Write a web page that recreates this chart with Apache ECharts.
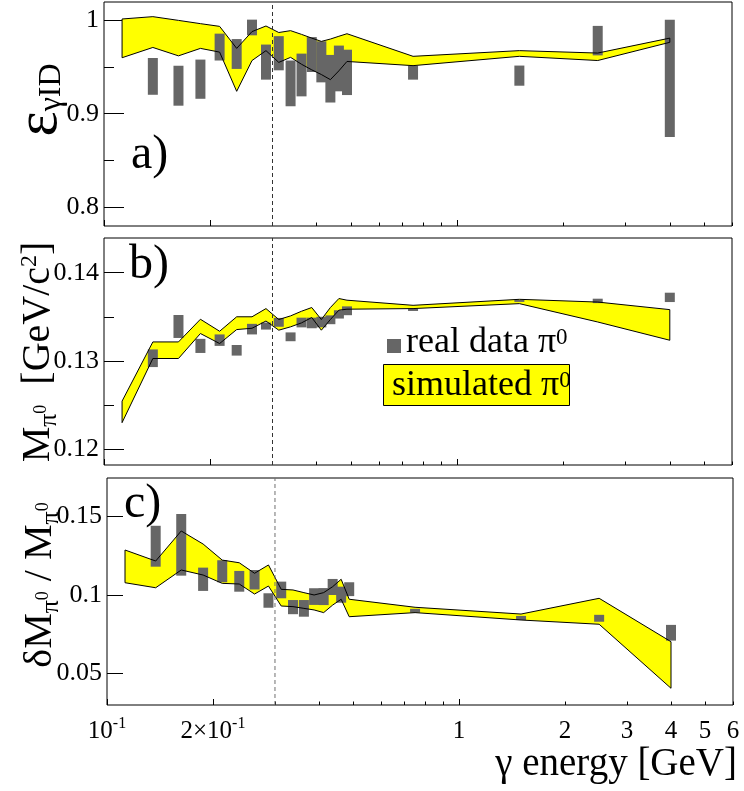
<!DOCTYPE html>
<html>
<head>
<meta charset="utf-8">
<script src="https://cdn.jsdelivr.net/npm/echarts@6/dist/echarts.min.js"></script>
<style>
  html, body { margin: 0; padding: 0; background: #ffffff; }
  #chart { width: 744px; height: 791px; }
</style>
</head>
<body>
<div id="chart"></div>
<script>
// Photon energy bins [GeV] of the measured points
const dataEnergies = [0.1375, 0.1625, 0.1875, 0.2125, 0.2375, 0.2625, 0.2875, 0.3125, 0.3375,
  0.3625, 0.3875, 0.4125, 0.4375, 0.4625, 0.4875, 0.75, 1.5, 2.5, 4];
// Energies of the simulated band vertices [GeV]
const simEnergies = [0.1125, 0.1375, 0.1625, 0.1875, 0.2125, 0.2375, 0.2625, 0.2875, 0.3125, 0.3375,
  0.3625, 0.3875, 0.4125, 0.4375, 0.4625, 0.4875, 0.75, 1.5, 2.5, 4];

// a) photon identification efficiency
const effData = [0.940, 0.930, 0.937, 0.9714, 0.964, 0.9924, 0.9553, 0.9648, 0.9325, 0.9415,
  0.9634, 0.9556, 0.9375, 0.9485, 0.9443, 0.944, 0.9408, 0.9783, 0.9379];
const effErr = [0.0197, 0.0214, 0.021, 0.0144, 0.016, 0.0084, 0.0188, 0.0183, 0.0245, 0.0229,
  0.0187, 0.022, 0.0255, 0.0245, 0.0243, 0.0075, 0.0108, 0.0158, 0.0629];
const effSimHigh = [1.0015, 1.004, 1.0, 0.9965, 0.9936, 0.970, 0.988, 0.994, 0.987, 0.989,
  0.985, 0.981, 0.9775, 0.980, 0.983, 0.9857, 0.9615, 0.9676, 0.965, 0.981];
const effSimLow = [0.960, 0.971, 0.962, 0.970, 0.966, 0.924, 0.957, 0.9676, 0.955, 0.9604,
  0.953, 0.947, 0.942, 0.9365, 0.946, 0.956, 0.9515, 0.9615, 0.957, 0.9765];

// b) reconstructed pi0 mass [GeV/c^2]
const massData = [0.1303, 0.1339, 0.1317, 0.13235, 0.1312, 0.1336, 0.13395, 0.13437, 0.13273, 0.13435,
  0.1343, 0.1344, 0.13466, 0.13527, 0.13568, 0.1358, 0.1368, 0.1368, 0.1372];
const massErr = [0.0010, 0.0013, 0.0008, 0.00065, 0.0006, 0.0006, 0.0004, 0.0005, 0.0005, 0.00055,
  0.0006, 0.0006, 0.0005, 0.00047, 0.0005, 0.00014, 0.0001, 0.00025, 0.00053];
const massSimHigh = [0.12544, 0.13215, 0.13215, 0.13472, 0.13336, 0.1350, 0.1350, 0.13593, 0.13469, 0.1351,
  0.13563, 0.13605, 0.13469, 0.13605, 0.13707, 0.13688, 0.1363, 0.13698, 0.13667, 0.13581];
const massSimLow = [0.1230, 0.13027, 0.13027, 0.1331, 0.13197, 0.13355, 0.1337, 0.13452, 0.13348, 0.13386,
  0.13431, 0.13492, 0.13348, 0.13469, 0.13575, 0.13586, 0.13593, 0.13649, 0.13441, 0.13234];

// c) relative pi0 mass width
const widthData = [0.131, 0.1319, 0.110, 0.1151, 0.1087, 0.1097, 0.0965, 0.1032, 0.0923, 0.0915,
  0.099, 0.099, 0.1051, 0.1002, 0.1037, 0.090, 0.0854, 0.0852, 0.076];
const widthErr = [0.013, 0.0196, 0.0074, 0.007, 0.0066, 0.0062, 0.0046, 0.0053, 0.0045, 0.0053,
  0.0053, 0.0054, 0.0051, 0.0051, 0.0044, 0.0012, 0.0013, 0.0022, 0.005];
const widthSimHigh = [0.1286, 0.1216, 0.1407, 0.1324, 0.1222, 0.1205, 0.1138, 0.1191, 0.1036, 0.1032,
  0.1015, 0.100, 0.1015, 0.1053, 0.110, 0.0973, 0.0922, 0.0879, 0.0979, 0.0703];
const widthSimLow = [0.1078, 0.1046, 0.1159, 0.1127, 0.1074, 0.107, 0.1006, 0.1057, 0.093, 0.0926,
  0.0915, 0.0905, 0.0888, 0.0936, 0.0973, 0.0862, 0.0888, 0.0841, 0.0814, 0.0407];

// Energy threshold marked by the dashed line [GeV]
const cutEnergy = 0.3;

// Axis ticks and ranges
const energyRange = [0.1, 6];
const energyTicksMajor = [0.1, 0.2, 1];
const energyTicksMinor = [0.3, 0.4, 0.5, 0.6, 0.7, 0.8, 0.9, 2, 3, 4, 5, 6];
const energyLabels = [0.1, 0.2, 1, 2, 3, 4, 5, 6];
const effRange = [0.7797, 1.0197];
const effTicks = [0.8, 0.9, 1];
const effMinorTicks = [0.85, 0.95];
const massRange = [0.1182, 0.14393];
const massTicks = [0.12, 0.13, 0.14];
const massMinorTicks = [0.125, 0.135];
const widthRange = [0.03007, 0.17438];
const widthTicks = [0.05, 0.1, 0.15];
const widthMinorTicks = [];

const FONT = '"Liberation Serif", "DejaVu Serif", serif';
const GRAY = '#666666';
const YELLOW = '#ffff00';

const panels = [
  { grid: { left: 104, top: 2, width: 628, height: 224 }, range: effRange, ticks: effTicks, minor: effMinorTicks,
    majorLen: 20, values: effData, errs: effErr, hi: effSimHigh, lo: effSimLow, labels: false, dash: '#333333' },
  { grid: { left: 104, top: 238, width: 628, height: 227 }, range: massRange, ticks: massTicks, minor: massMinorTicks,
    majorLen: 20, values: massData, errs: massErr, hi: massSimHigh, lo: massSimLow, labels: false, dash: '#333333' },
  { grid: { left: 107, top: 478, width: 626, height: 227 }, range: widthRange, ticks: widthTicks, minor: widthMinorTicks,
    majorLen: 16, values: widthData, errs: widthErr, hi: widthSimHigh, lo: widthSimLow, labels: true, dash: '#707070' }
];

function near(a, b) { return Math.abs(a - b) < 1e-9 * Math.max(1, Math.abs(b)); }

function energyLabel(v) {
  if (near(v, 0.1)) return '{b|10}{p|-1}';
  if (near(v, 0.2)) return '{b|2\u00d710}{p|-1}';
  return '{b|' + Math.round(v) + '}';
}

const grids = [], xAxes = [], yAxes = [], series = [];

panels.forEach((p, k) => {
  grids.push(Object.assign({ show: true, borderColor: '#000', borderWidth: 1, backgroundColor: 'transparent' }, p.grid));
  // major energy ticks (and labels on the lowest panel)
  xAxes.push({
    type: 'log', logBase: 10, gridIndex: k, position: 'bottom',
    min: energyRange[0], max: energyRange[1],
    axisLine: { show: false, onZero: false },
    splitLine: { show: false },
    axisTick: { show: true, inside: true, length: 6, customValues: energyTicksMajor, lineStyle: { color: '#000', width: 1 } },
    axisLabel: {
      show: p.labels, customValues: energyLabels, margin: 14, formatter: energyLabel,
      rich: {
        b: { fontFamily: FONT, fontSize: 25, color: '#000', lineHeight: 25 },
        p: { fontFamily: FONT, fontSize: 16, color: '#000', lineHeight: 16, padding: [0, 0, 16, 0] }
      }
    }
  });
  // minor energy ticks
  xAxes.push({
    type: 'log', logBase: 10, gridIndex: k, position: 'bottom',
    min: energyRange[0], max: energyRange[1],
    axisLine: { show: false, onZero: false },
    splitLine: { show: false },
    axisTick: { show: true, inside: true, length: 3.5, customValues: energyTicksMinor, lineStyle: { color: '#000', width: 1 } },
    axisLabel: { show: false }
  });
  yAxes.push({
    type: 'value', gridIndex: k, position: 'left', min: p.range[0], max: p.range[1],
    axisLine: { show: false, onZero: false },
    splitLine: { show: false },
    axisTick: { show: true, inside: true, length: p.majorLen, customValues: p.ticks, lineStyle: { color: '#000', width: 1 } },
    axisLabel: {
      show: true, customValues: p.ticks, margin: 5,
      fontFamily: FONT, fontSize: 26, color: '#000',
      formatter: v => String(+v.toFixed(4))
    }
  });
  yAxes.push({
    type: 'value', gridIndex: k, position: 'left', min: p.range[0], max: p.range[1],
    axisLine: { show: false, onZero: false },
    splitLine: { show: false },
    axisTick: { show: p.minor.length > 0, inside: true, length: 10, customValues: p.minor.length ? p.minor : [p.range[0]], lineStyle: { color: '#000', width: 1 } },
    axisLabel: { show: false }
  });

  const xi = 2 * k, yi = 2 * k;
  const bandData = simEnergies.map((e, i) => [e, p.lo[i], p.hi[i]]);
  const bandPoints = (api) => {
    const pts = [];
    for (let i = 0; i < simEnergies.length; i++) pts.push(api.coord([simEnergies[i], p.hi[i]]));
    for (let i = simEnergies.length - 1; i >= 0; i--) pts.push(api.coord([simEnergies[i], p.lo[i]]));
    return pts;
  };
  // simulated band: fill
  series.push({
    type: 'custom', xAxisIndex: xi, yAxisIndex: yi, z: 1, silent: true, clip: true,
    data: bandData, encode: { x: 0, y: [1, 2] },
    renderItem: (params, api) => {
      if (params.dataIndex !== 0) return null;
      return { type: 'polygon', shape: { points: bandPoints(api) }, style: { fill: YELLOW, stroke: null } };
    }
  });
  // real data boxes
  series.push({
    type: 'custom', xAxisIndex: xi, yAxisIndex: yi, z: 2, silent: true, clip: true,
    data: dataEnergies.map((e, i) => [e, p.values[i], p.errs[i]]), encode: { x: 0, y: 1 },
    renderItem: (params, api) => {
      const e = api.value(0), c = api.value(1), d = api.value(2);
      const top = api.coord([e, c + d]);
      const bot = api.coord([e, c - d]);
      const h = Math.max(bot[1] - top[1], 2);
      const mid = (top[1] + bot[1]) / 2;
      return { type: 'rect', shape: { x: top[0] - 5, y: mid - h / 2, width: 10, height: h }, style: { fill: GRAY } };
    }
  });
  // simulated band: outline
  series.push({
    type: 'custom', xAxisIndex: xi, yAxisIndex: yi, z: 3, silent: true, clip: true,
    data: bandData, encode: { x: 0, y: [1, 2] },
    renderItem: (params, api) => {
      if (params.dataIndex !== 0) return null;
      return { type: 'polygon', shape: { points: bandPoints(api) }, style: { fill: null, stroke: '#000', lineWidth: 1 } };
    }
  });
  // threshold line
  series.push({
    type: 'line', xAxisIndex: xi, yAxisIndex: yi, z: 4, silent: true,
    data: [[cutEnergy, p.range[0]], [cutEnergy, p.range[1]]],
    symbol: 'none', lineStyle: { color: p.dash, width: 1, type: [4, 3] }
  });
});

const txt = (o) => Object.assign({ fontFamily: FONT, fill: '#000' }, o);

const graphics = [
  // panel tags
  { type: 'text', left: 131, top: 131, style: txt({ text: 'a)', fontSize: 48 }) },
  { type: 'text', left: 129, top: 241, style: txt({ text: 'b)', fontSize: 48 }) },
  { type: 'text', left: 124, top: 480, style: txt({ text: 'c)', fontSize: 48 }) },
  // legend
  { type: 'rect', shape: { x: 387, y: 339, width: 14, height: 14 }, style: { fill: GRAY } },
  { type: 'text', x: 406, y: 343, style: txt({
      text: '{t|real data \u03c0}{s|0}', verticalAlign: 'middle', align: 'left',
      rich: { t: { fontFamily: FONT, fontSize: 36, lineHeight: 36 },
              s: { fontFamily: FONT, fontSize: 23, lineHeight: 23, padding: [0, 0, 10, 0] } } }) },
  { type: 'rect', shape: { x: 383.5, y: 364.5, width: 186, height: 41 }, style: { fill: YELLOW, stroke: '#000', lineWidth: 1 } },
  { type: 'text', x: 392, y: 386, style: txt({
      text: '{t|simulated \u03c0}{s|0}', verticalAlign: 'middle', align: 'left',
      rich: { t: { fontFamily: FONT, fontSize: 36, lineHeight: 36 },
              s: { fontFamily: FONT, fontSize: 23, lineHeight: 23, padding: [0, 0, 10, 0] } } }) },
  // axis titles
  { type: 'text', x: 737, y: 765, style: txt({ text: '\u03b3 energy [GeV]', fontSize: 39, align: 'right', verticalAlign: 'middle' }) },
  { type: 'text', x: 40, y: 100, rotation: Math.PI / 2, style: txt({
      text: '{m|\u03b5}{s|\u03b3ID}', align: 'center', verticalAlign: 'middle',
      rich: { m: { fontFamily: FONT, fontSize: 60, lineHeight: 60 },
              s: { fontFamily: FONT, fontSize: 32, lineHeight: 32, padding: [24, 0, 0, 0] } } }) },
  { type: 'text', x: 38, y: 352, rotation: Math.PI / 2, style: txt({
      text: '{m|M}{s|\u03c0}{u|0}{m|  [GeV/c}{v|2}{m|]}', align: 'center', verticalAlign: 'middle',
      rich: { m: { fontFamily: FONT, fontSize: 40, lineHeight: 40 },
              s: { fontFamily: FONT, fontSize: 26, lineHeight: 26, padding: [22, 0, 0, 0] },
              u: { fontFamily: FONT, fontSize: 18, lineHeight: 18, padding: [6, 0, 0, 0] },
              v: { fontFamily: FONT, fontSize: 24, lineHeight: 24, padding: [0, 0, 16, 0] } } }) },
  { type: 'text', x: 40, y: 585, rotation: Math.PI / 2, style: txt({
      text: '{m|\u03b4M}{s|\u03c0}{u|0}{m| / M}{s|\u03c0}{u|0}', align: 'center', verticalAlign: 'middle',
      rich: { m: { fontFamily: FONT, fontSize: 40, lineHeight: 40 },
              s: { fontFamily: FONT, fontSize: 26, lineHeight: 26, padding: [22, 0, 0, 0] },
              u: { fontFamily: FONT, fontSize: 18, lineHeight: 18, padding: [6, 0, 0, 0] } } }) }
];

const chart = echarts.init(document.getElementById('chart'), null, { renderer: 'canvas' });
chart.setOption({
  animation: false,
  backgroundColor: '#ffffff',
  grid: grids,
  xAxis: xAxes,
  yAxis: yAxes,
  series: series,
  graphic: graphics
});
</script>
</body>
</html>
